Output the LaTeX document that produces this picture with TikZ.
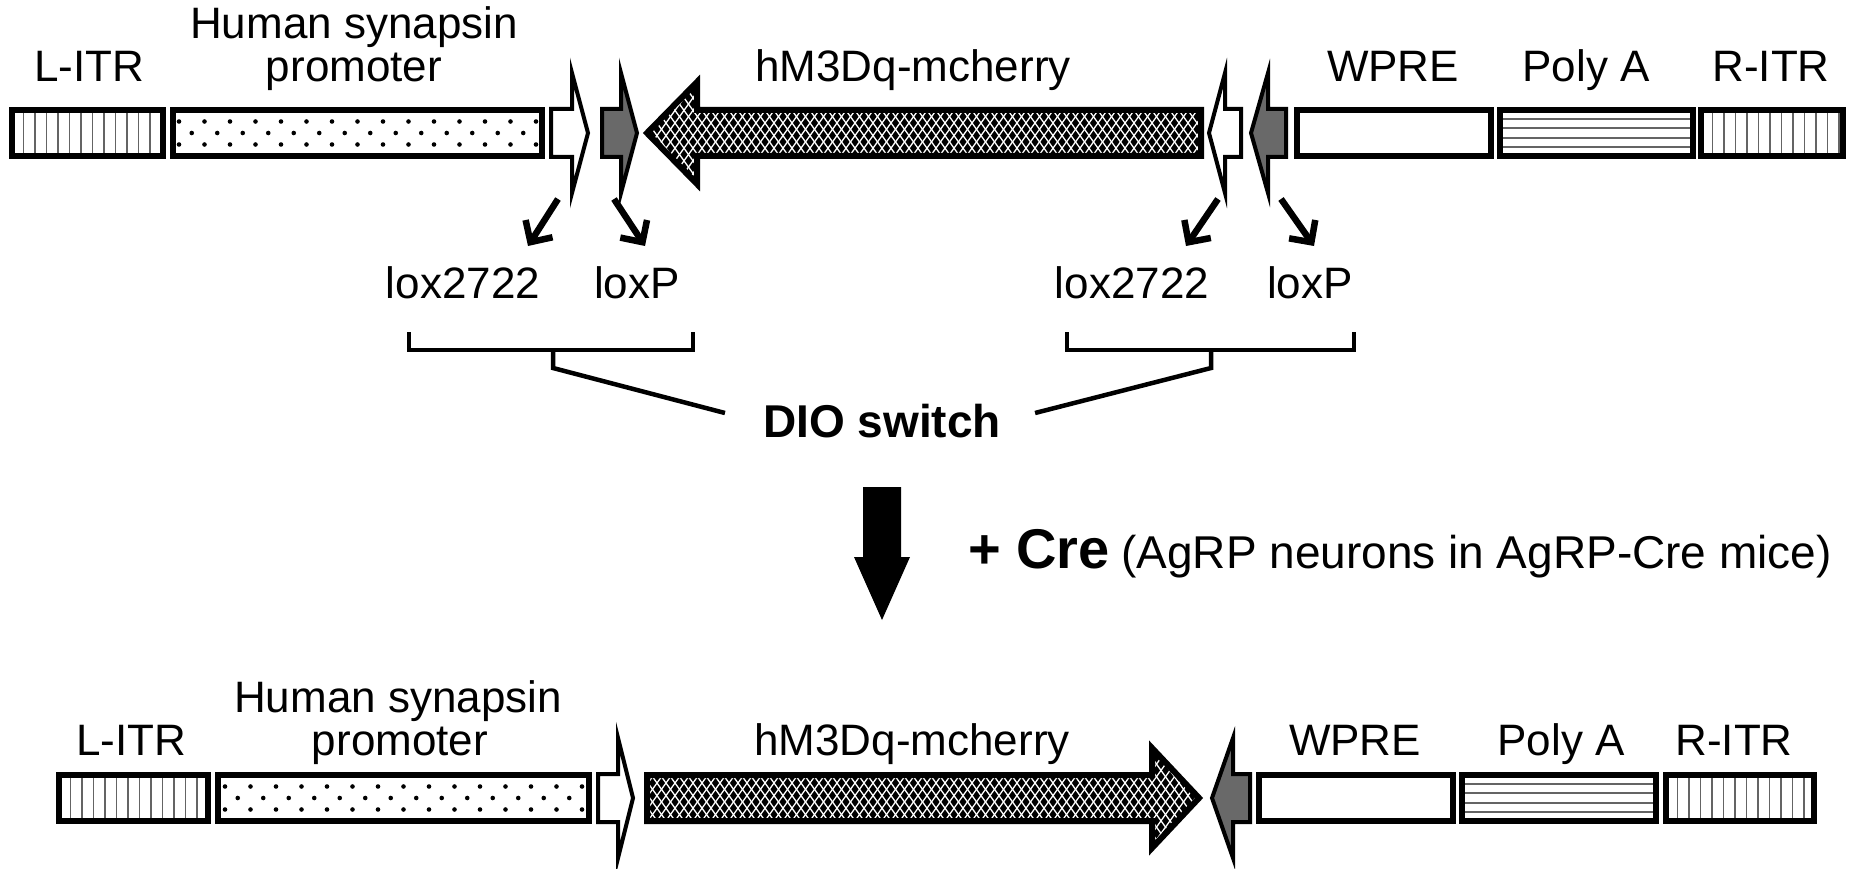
\documentclass[tikz,border=0pt]{standalone}
\usepackage{fontspec}
\setmainfont{Liberation Sans}
\usetikzlibrary{arrows.meta}
\definecolor{sitegray}{RGB}{105,105,105}
\definecolor{linegray}{RGB}{100,100,100}
\newcommand{\itrlines}{\foreach \k in {1,...,16}{\draw[linegray, line width=1.8pt] ([xshift=\k*11.5pt]path picture bounding box.south west) -- ([xshift=\k*11.5pt]path picture bounding box.north west);}}
\newcommand{\polylines}{\foreach \k in {-14,-5,5,14}{\draw[linegray, line width=1.7pt] ([yshift=\k pt]path picture bounding box.west) -- ([yshift=\k pt]path picture bounding box.east);}}
% dots, in the node's own coordinates (origin = node centre)
\newcommand{\promdots}{\foreach \k in {-7,...,7}{
   \fill[black] ({\k*25.5},-11.5) circle[radius=2.3pt];
   \fill[black] ({\k*25.5},11.5) circle[radius=2.3pt];
   \fill[black] ({12.75+\k*25.5},0) circle[radius=2.3pt];}}
% #1 first, #2 second, #3 last x, #4 start y
\newcommand{\xhatch}[4]{\foreach \s in {#1,#2,...,#3}{\draw[white, line width=1.3pt] (\s,#4) -- ++(100,140); \draw[white, line width=1.3pt] (\s,#4) -- ++(-100,140);}}
\tikzset{
  lab/.style={font=\fontsize{44}{44}\selectfont, anchor=base, inner sep=0pt},
  gbox/.style={draw, line width=6pt, inner sep=0pt, minimum height=46pt, fill=white},
  itrbox/.style={gbox, path picture={\itrlines}},
  polybox/.style={gbox, path picture={\polylines}},
  prombox/.style={gbox, path picture={\promdots}},
  site/.style={draw, line width=4pt, line join=miter},
  bigarrow/.style={draw, line width=6pt, fill=black, line join=miter},
  conn/.style={line width=6.5pt, -{Straight Barb[length=16pt, width=32pt, line width=6.5pt]}},
  brk/.style={line width=4.5pt},
}
\begin{document}
\begin{tikzpicture}[x=1pt, y=-1pt]
\useasboundingbox (0,0) rectangle (1860,869);
\fill[white] (0,0) rectangle (1860,869);

% ---------------- top row (centre y = 133)
\node[itrbox, minimum width=151pt] (litrA) at (87.5,133) {};
\node[prombox, minimum width=369pt] (promA) at (357.5,133) {};
\node[gbox, minimum width=194pt] (wpreA) at (1394,133) {};
\node[polybox, minimum width=193pt] (polyA) at (1596.5,133) {};
\node[itrbox, minimum width=142pt] (ritrA) at (1772,133) {};

% lox sites, top
\draw[site, fill=white] (551,109) -- (572,109) -- (572,73) -- (588,133) -- (572,193) -- (572,157) -- (551,157) -- cycle;
\draw[site, fill=sitegray] (602,109) -- (621,109) -- (621,73) -- (637,133) -- (621,193) -- (621,157) -- (602,157) -- cycle;
\draw[site, fill=white] (1241,109) -- (1225,109) -- (1225,73) -- (1209,133) -- (1225,193) -- (1225,157) -- (1241,157) -- cycle;
\draw[site, fill=sitegray] (1286,109) -- (1268,109) -- (1268,73) -- (1251,133) -- (1268,193) -- (1268,157) -- (1286,157) -- cycle;
% hM3Dq, inverted
\draw[bigarrow, path picture={\xhatch{540}{549}{1320}{60}}]
  (1201,110) -- (697,110) -- (697,82) -- (647,133) -- (697,184) -- (697,156) -- (1201,156) -- cycle;

% labels top
\node[lab] (tl1) at (89,82) {L-ITR};
\node[lab] (tl2a) at (354,39) {Human synapsin};
\node[lab] (tl2b) at (354,82) {promoter};
\node[lab] (tl3) at (913,82) {hM3Dq-mcherry};
\node[lab] (tl4) at (1393,82) {WPRE};
\node[lab] (tl5) at (1586,82) {Poly A};
\node[lab] (tl6) at (1771,82) {R-ITR};

% lox labels and pointers
\node[lab] (lox1) at (463,298) {lox2722};
\node[lab] (lox2) at (637,298) {loxP};
\node[lab] (lox3) at (1132,298) {lox2722};
\node[lab] (lox4) at (1310,298) {loxP};
\coordinate (p1s) at (558,199); \coordinate (p1e) at (528,246);
\coordinate (p2s) at (614,199); \coordinate (p2e) at (645,246);
\coordinate (p3s) at (1218,199); \coordinate (p3e) at (1186,246);
\coordinate (p4s) at (1281,199); \coordinate (p4e) at (1314,246);
\draw[conn] (p1s) -- (p1e);
\draw[conn] (p2s) -- (p2e);
\draw[conn] (p3s) -- (p3e);
\draw[conn] (p4s) -- (p4e);

% brackets to DIO switch
\node[font=\fontsize{46}{46}\selectfont\bfseries, anchor=base, inner sep=0pt] (dio) at (882,437) {DIO switch};
\coordinate (b1) at (553,350); \coordinate (b1s) at (553,368);
\coordinate (b2) at (1211,350); \coordinate (b2s) at (1211,368);
\draw[brk] (409,332) |- (b1) -| (693,332);
\draw[brk] (b1) -- (b1s) -- ([xshift=-38pt, yshift=24pt]dio.base west);
\draw[brk] (1067,332) |- (b2) -| (1354,332);
\draw[brk] (b2) -- (b2s) -- ([xshift=34pt, yshift=24pt]dio.base east);

% Cre arrow
\fill[black] (863,487) -- (901,487) -- (901,557) -- (910,557) -- (882,620) -- (854,557) -- (863,557) -- cycle;
\node[font=\fontsize{56}{56}\selectfont\bfseries, anchor=base west, inner sep=0pt] (cre) at (968,568) {+ Cre};
\node[font=\fontsize{46}{46}\selectfont, anchor=base west, inner sep=0pt] (crenote) at (1121,568) {(AgRP neurons in AgRP-Cre mice)};

% ---------------- bottom row (centre y = 798)
\node[itrbox, minimum width=149pt] (litrB) at (133.5,798) {};
\node[prombox, minimum width=371pt] (promB) at (403.5,798) {};
\node[gbox, minimum width=194pt] (wpreB) at (1356,798) {};
\node[polybox, minimum width=194pt] (polyB) at (1559,798) {};
\node[itrbox, minimum width=148pt] (ritrB) at (1740,798) {};

\draw[site, fill=white] (598,774) -- (618,774) -- (618,738) -- (633,798) -- (618,858) -- (618,822) -- (598,822) -- cycle;
\draw[site, fill=sitegray] (1250,774) -- (1233,774) -- (1233,738) -- (1212,798) -- (1233,858) -- (1233,822) -- (1250,822) -- cycle;
\draw[bigarrow, path picture={\xhatch{540}{549}{1320}{720}}]
  (647,775) -- (1152,775) -- (1152,748) -- (1199,798) -- (1152,848) -- (1152,821) -- (647,821) -- cycle;

\node[lab] (bl1) at (131,755) {L-ITR};
\node[lab] (bl2a) at (398,712) {Human synapsin};
\node[lab] (bl2b) at (400,755) {promoter};
\node[lab] (bl3) at (912,755) {hM3Dq-mcherry};
\node[lab] (bl4) at (1355,755) {WPRE};
\node[lab] (bl5) at (1561,755) {Poly A};
\node[lab] (bl6) at (1734,755) {R-ITR};
\end{tikzpicture}
\end{document}
